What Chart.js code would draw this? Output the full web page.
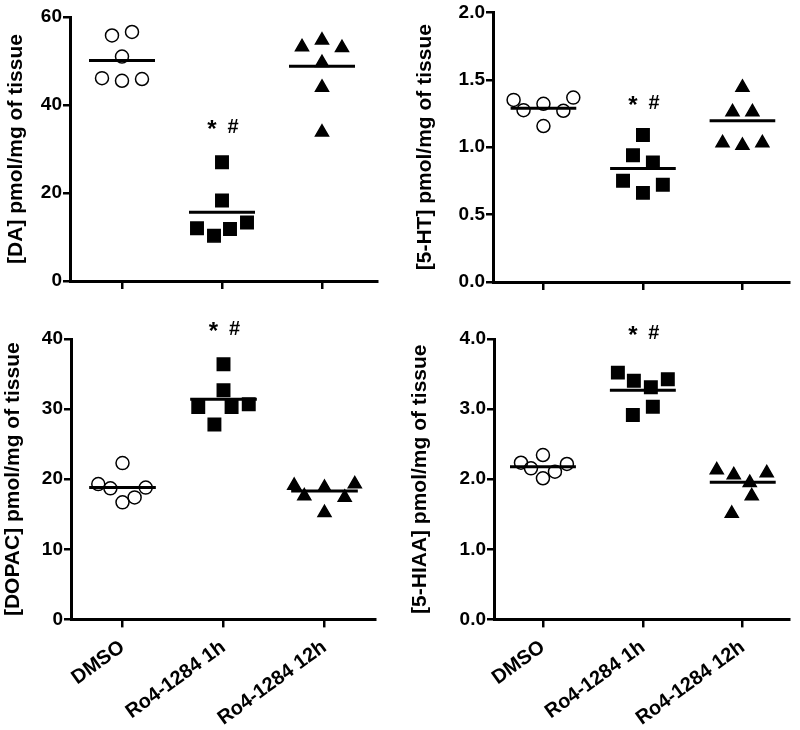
<!DOCTYPE html>
<html>
<head>
<meta charset="utf-8">
<script src="https://cdn.jsdelivr.net/npm/chart.js@4.4.1/dist/chart.umd.min.js"></script>
<style>
  html, body { margin: 0; padding: 0; background: #fff; }
  #wrap { position: relative; width: 800px; height: 730px; }
  canvas { position: absolute; }
</style>
</head>
<body>
<div id="wrap">
  <canvas id="cDA" width="400" height="300" style="left:0;top:0"></canvas>
  <canvas id="cHT" width="400" height="300" style="left:400px;top:0"></canvas>
  <canvas id="cDOPAC" width="400" height="430" style="left:0;top:300px"></canvas>
  <canvas id="cHIAA" width="400" height="430" style="left:400px;top:300px"></canvas>
</div>
<script>
// groups on the x axis
const groups = ['DMSO', 'Ro4-1284 1h', 'Ro4-1284 12h'];

// [DA]
const daDMSO = [55.8, 56.6, 51.0, 46.1, 45.5, 45.9];
const daRo1h = [27.0, 18.3, 12.0, 10.3, 11.8, 13.3];
const daRo12h = [53.2, 54.7, 53.0, 49.6, 44.0, 33.8];
const daMeans = [50.1, 15.6, 48.8];
const daJitter = [[-0.1, 0.1, 0, -0.2, 0, 0.2], [0, 0, -0.25, -0.08, 0.08, 0.25], [-0.2, 0, 0.2, 0, 0, 0]];
const daStar = 34.9;

// [5-HT]
const htDMSO = [1.351, 1.275, 1.322, 1.157, 1.270, 1.368];
const htRo1h = [1.091, 0.940, 0.886, 0.751, 0.661, 0.722];
const htRo12h = [1.443, 1.262, 1.262, 1.032, 1.012, 1.032];
const htMeans = [1.289, 0.842, 1.197];
const htJitter = [[-0.3, -0.2, 0, 0, 0.2, 0.3], [0, -0.1, 0.1, -0.2, 0, 0.2], [0, -0.1, 0.1, -0.2, 0, 0.2]];
const htStar = 1.326;

// [DOPAC]
const dopacDMSO = [22.3, 19.3, 18.7, 18.8, 16.7, 17.4];
const dopacRo1h = [36.4, 32.7, 30.3, 30.3, 30.7, 27.8];
const dopacRo12h = [19.1, 17.6, 18.8, 19.3, 17.4, 15.2];
const dopacMeans = [18.8, 31.4, 18.3];
const dopacJitter = [[0, -0.24, -0.12, 0.23, 0, 0.12], [0, 0, -0.25, 0.08, 0.25, -0.09], [-0.3, -0.2, 0, 0.3, 0.2, 0]];
const dopacStar = 41.4;

// [5-HIAA]
const hiaaDMSO = [2.235, 2.345, 2.155, 2.217, 2.107, 2.013];
const hiaaRo1h = [3.52, 3.405, 3.311, 3.425, 3.034, 2.916];
const hiaaRo12h = [2.13, 2.06, 1.95, 2.09, 1.76, 1.51];
const hiaaMeans = [2.178, 3.268, 1.956];
const hiaaJitter = [[-0.22, 0, -0.12, 0.24, 0.12, 0], [-0.25, -0.09, 0.08, 0.25, 0.1, -0.1], [-0.26, -0.09, 0.07, 0.24, 0.09, -0.11]];
const hiaaStar = 4.08;

const FONT = '"Liberation Sans", Arial, sans-serif';

const symbols = [
  { style: 'circle', radius: 6.5, fill: 'rgba(0,0,0,0)' },
  { style: 'rect', radius: 8.8, fill: '#000' },
  { style: 'triangle', radius: 7.5, fill: '#000' }
];

function scatterSet(values, jitter, g) {
  const s = symbols[g];
  return {
    data: values.map((v, i) => ({ x: g + jitter[i], y: v })),
    pointStyle: s.style,
    pointRadius: s.radius,
    pointHoverRadius: s.radius,
    pointBackgroundColor: s.fill,
    pointBorderColor: '#000',
    pointBorderWidth: 1.5,
    showLine: false
  };
}

function meanSet(means) {
  const pts = [];
  means.forEach((m, i) => {
    pts.push({ x: i - 0.33, y: m }, { x: i + 0.33, y: m });
    if (i < means.length - 1) pts.push({ x: i + 0.5, y: null });
  });
  return {
    data: pts, showLine: true, spanGaps: false,
    borderColor: '#000', borderWidth: 3, pointRadius: 0, fill: false
  };
}

const starPlugin = {
  id: 'stars',
  afterDatasetsDraw(chart, args, opts) {
    const { ctx, scales } = chart;
    const px = scales.x.getPixelForValue(1);
    const py = scales.y.getPixelForValue(opts.value);
    ctx.save();
    ctx.fillStyle = '#000';
    ctx.textAlign = 'center';
    ctx.textBaseline = 'middle';
    ctx.font = 'bold 24px ' + FONT;
    ctx.fillText('*', px - 10, py + 3);
    ctx.font = 'bold 20px ' + FONT;
    ctx.fillText('#', px + 11, py);
    ctx.restore();
  }
};

function makePanel(id, p) {
  new Chart(document.getElementById(id), {
    type: 'scatter',
    data: {
      datasets: [
        scatterSet(p.sets[0], p.jitter[0], 0),
        scatterSet(p.sets[1], p.jitter[1], 1),
        scatterSet(p.sets[2], p.jitter[2], 2),
        meanSet(p.means)
      ]
    },
    plugins: [starPlugin],
    options: {
      responsive: false,
      animation: false,
      layout: { padding: p.pad },
      plugins: {
        legend: { display: false },
        tooltip: { enabled: false },
        stars: { value: p.star }
      },
      scales: {
        x: {
          type: 'linear',
          min: p.xMin,
          max: p.xMax,
          afterBuildTicks: axis => { axis.ticks = [0, 1, 2].map(v => ({ value: v })); },
          afterFit: axis => { axis.height = p.xH; },
          border: { color: '#000', width: 3 },
          grid: { drawOnChartArea: false, drawTicks: true, tickLength: 8, color: '#000', lineWidth: 2.5 },
          ticks: {
            display: p.showLabels,
            autoSkip: false,
            minRotation: 36,
            maxRotation: 36,
            padding: 8,
            color: '#000',
            font: { family: FONT, size: 20, weight: 'bold' },
            callback: v => groups[v]
          }
        },
        y: {
          min: 0,
          max: p.max,
          afterFit: axis => { axis.width = p.yW; },
          border: { color: '#000', width: 3 },
          grid: { drawOnChartArea: false, drawTicks: true, tickLength: 7, color: '#000', lineWidth: 2.5 },
          ticks: {
            stepSize: p.step,
            padding: 1,
            color: '#000',
            font: { family: FONT, size: 19, weight: 'bold' },
            callback: v => v.toFixed(p.dec)
          },
          title: {
            display: true,
            text: p.title,
            color: '#000',
            padding: { top: p.titlePad, bottom: 0 },
            font: { family: FONT, size: 21, weight: 'bold' }
          }
        }
      }
    }
  });
}

makePanel('cDA', {
  title: '[DA] pmol/mg of tissue', sets: [daDMSO, daRo1h, daRo12h], jitter: daJitter,
  means: daMeans, star: daStar, max: 60, step: 20, dec: 0,
  xMin: -0.52, xMax: 2.55, yW: 70, xH: 19, titlePad: 4, showLabels: false,
  pad: { left: 0, right: 23, top: 17, bottom: 0 }
});
makePanel('cHT', {
  title: '[5-HT] pmol/mg of tissue', sets: [htDMSO, htRo1h, htRo12h], jitter: htJitter,
  means: htMeans, star: htStar, max: 2.0, step: 0.5, dec: 1,
  xMin: -0.507, xMax: 2.475, yW: 93, xH: 18, titlePad: 13, showLabels: false,
  pad: { left: 0, right: 7, top: 10, bottom: 0 }
});
makePanel('cDOPAC', {
  title: '[DOPAC] pmol/mg of tissue', sets: [dopacDMSO, dopacRo1h, dopacRo12h], jitter: dopacJitter,
  means: dopacMeans, star: dopacStar, max: 40, step: 10, dec: 0,
  xMin: -0.51, xMax: 2.5, yW: 71, xH: 110.6, titlePad: 1, showLabels: true,
  pad: { left: 0, right: 25, top: 39, bottom: 0 }
});
makePanel('cHIAA', {
  title: '[5-HIAA] pmol/mg of tissue', sets: [hiaaDMSO, hiaaRo1h, hiaaRo12h], jitter: hiaaJitter,
  means: hiaaMeans, star: hiaaStar, max: 4.0, step: 1.0, dec: 1,
  xMin: -0.49, xMax: 2.47, yW: 94, xH: 110.6, titlePad: 8, showLabels: true,
  pad: { left: 0, right: 7, top: 39, bottom: 0 }
});
</script>
</body>
</html>
